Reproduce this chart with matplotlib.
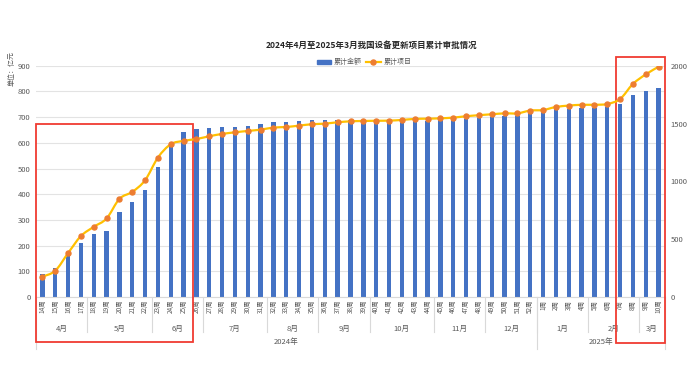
import matplotlib
matplotlib.use("Agg")
import matplotlib.pyplot as plt
from matplotlib.path import Path
from matplotlib.patches import PathPatch, Rectangle
from matplotlib.lines import Line2D
import matplotlib.transforms as mtransforms

plt.rcParams['font.family'] = ['Noto Sans CJK SC', 'DejaVu Sans']

weeks = [f"{w}周" for w in range(14, 53)] + [f"{w}周" for w in range(1, 11)]
amount = [89, 113, 177, 212, 247, 258, 330, 369, 416, 505, 595, 642,
          655, 657, 661, 661, 666, 674, 679, 681, 684, 688, 689, 689, 688, 687,
          684, 683, 684, 685, 685, 688, 689, 694, 697, 699, 703, 706, 716,
          723, 731, 731, 734, 734, 738, 751, 786, 803, 813]
projects = [176, 227, 380, 527, 607, 679, 849, 909, 1010, 1206, 1321, 1350,
            1366, 1390, 1410, 1424, 1436, 1447, 1465, 1470, 1482, 1494, 1499, 1511, 1519, 1522,
            1524, 1525, 1531, 1540, 1542, 1545, 1551, 1563, 1572, 1580, 1588, 1588, 1612,
            1617, 1643, 1655, 1662, 1662, 1669, 1712, 1842, 1925, 1991]
months = ["4月", "5月", "6月", "7月", "8月", "9月", "10月", "11月", "12月", "1月", "2月", "3月"]
month_counts = [4, 5, 4, 5, 4, 4, 5, 4, 4, 4, 4, 2]
years = ["2024年", "2025年"]
year_counts = [39, 10]

W, H = 692, 375
fig = plt.figure(figsize=(W / 100, H / 100), dpi=100)
ax_l, ax_r, ax_t, ax_b = 36, 665, 65.7, 297
ax = fig.add_axes([ax_l / W, 1 - ax_b / H, (ax_r - ax_l) / W, (ax_b - ax_t) / H])
ax2 = ax.twinx()

def fy(py):
    return (ax_b - py) / (ax_b - ax_t)

n = len(weeks)
x = list(range(n))
blue = '#4472C4'
gold = '#FFC000'
orange = '#ED7D31'
gray = '#595959'

ax.bar(x, amount, width=0.34, color=blue, zorder=2)
ax.set_xlim(-0.5, n - 0.5)
ax.set_ylim(0, 900)
ax.set_yticks(range(0, 901, 100))
ax.grid(axis='y', color='#E3E3E3', linewidth=0.8, zorder=0)
ax.set_axisbelow(True)
for s in ['top', 'right', 'left']:
    ax.spines[s].set_visible(False)
ax.spines['bottom'].set_color('#D9D9D9')
ax.tick_params(axis='y', length=0, labelsize=5.5, labelcolor=gray, pad=4)
ax.set_xticks(x)
ax.set_xticklabels(weeks, rotation=90, fontsize=4.6, color=gray)
ax.tick_params(axis='x', length=0, pad=2)

ax2.set_ylim(0, 2000)
ax2.set_yticks(range(0, 2001, 500))
for s in ['top', 'right', 'left', 'bottom']:
    ax2.spines[s].set_visible(False)
ax2.tick_params(axis='y', length=0, labelsize=5.5, labelcolor=gray, pad=4)

# smooth line (Catmull-Rom as cubic Bezier) through data points
pts = list(zip(x, projects))
verts = [pts[0]]
codes = [Path.MOVETO]
for i in range(n - 1):
    p0 = pts[i - 1] if i > 0 else pts[i]
    p1 = pts[i]
    p2 = pts[i + 1]
    p3 = pts[i + 2] if i + 2 < n else pts[i + 1]
    c1 = (p1[0] + (p2[0] - p0[0]) / 6, p1[1] + (p2[1] - p0[1]) / 6)
    c2 = (p2[0] - (p3[0] - p1[0]) / 6, p2[1] - (p3[1] - p1[1]) / 6)
    verts += [c1, c2, p2]
    codes += [Path.CURVE4] * 3
ax2.add_patch(PathPatch(Path(verts, codes), facecolor='none', edgecolor=gold, linewidth=1.6, zorder=3))
ax2.plot(x, projects, linestyle='none', marker='o', markersize=3.6, color=orange, zorder=4)

# category grouping
trans = mtransforms.blended_transform_factory(ax.transData, ax.transAxes)
sep_color = '#D9D9D9'
pos = 0
for m, c in zip(months, month_counts):
    ax.text(pos + (c - 1) / 2, fy(329), m, transform=trans, ha='center', va='center',
            fontsize=5.5, color=gray)
    pos += c
    if pos < n:
        ax.plot([pos - 0.5, pos - 0.5], [0, fy(332)], transform=trans, color=sep_color,
                linewidth=0.8, clip_on=False)
pos = 0
ax.plot([-0.5, -0.5], [0, fy(349)], transform=trans, color=sep_color, linewidth=0.8, clip_on=False)
for yname, c in zip(years, year_counts):
    ax.text(pos + (c - 1) / 2, fy(342), yname, transform=trans, ha='center', va='center',
            fontsize=5.5, color=gray)
    pos += c
    ax.plot([pos - 0.5, pos - 0.5], [0, fy(349)], transform=trans, color=sep_color,
            linewidth=0.8, clip_on=False)

# highlight boxes
box_color = '#F03C32'
ax.add_patch(Rectangle((-0.5, fy(341.5)), 12.2, fy(124) - fy(341.5), transform=trans,
                       fill=False, edgecolor=box_color, linewidth=1.3, clip_on=False, zorder=5))
ax.add_patch(Rectangle((44.67, fy(342.5)), 48.5 - 44.67, fy(56.7) - fy(342.5), transform=trans,
                       fill=False, edgecolor=box_color, linewidth=1.3, clip_on=False, zorder=5))

fig.text(371 / W, 1 - 45 / H, "2024年4月至2025年3月我国设备更新项目累计审批情况",
         ha='center', va='center', fontsize=6.1, fontweight='bold', color='#262626')
fig.text(12 / W, 1 - 69 / H, "单位：亿元", rotation=90, ha='center', va='center',
         fontsize=5, color=gray)

handles = [Rectangle((0, 0), 1, 1, color=blue),
           Line2D([0], [0], color=gold, linewidth=1.6, marker='o', markersize=3.6,
                  markerfacecolor=orange, markeredgecolor=orange)]
fig.legend(handles, ["累计金额", "累计项目"], loc='center', bbox_to_anchor=(364 / W, 1 - 62 / H),
           ncol=2, frameon=False, fontsize=5.0, handlelength=2.1, handleheight=0.5,
           columnspacing=0.6, handletextpad=0.4, labelcolor=gray)

fig.savefig("out.png", dpi=100)
